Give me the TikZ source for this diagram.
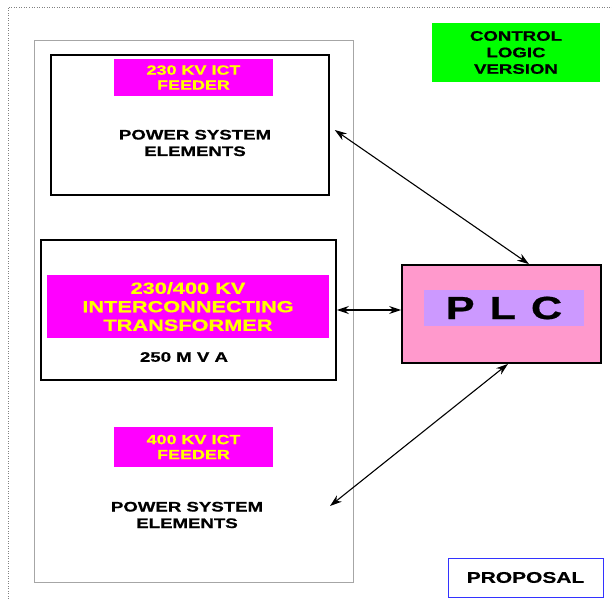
\documentclass[tikz,border=0pt]{standalone}
\usepackage{fontspec}
\setmainfont[FakeStretch=1.35,BoldFeatures={FakeBold=0.7}]{Liberation Sans}
\usetikzlibrary{positioning,arrows.meta}
\definecolor{tagmag}{HTML}{FF00FF}
\definecolor{tagyel}{HTML}{FFFF00}
\definecolor{plcpink}{HTML}{FF99CC}
\definecolor{plclav}{HTML}{CC99FF}
\definecolor{ctrlgreen}{HTML}{00FF00}
\definecolor{propblue}{HTML}{3333FF}
\tikzset{elembox/.style={draw=black,line width=1.6pt,inner sep=0pt},tag/.style={fill=tagmag,text=tagyel,inner
sep=0pt,align=center,font=\fontsize{13.3}{15}\selectfont\bfseries}}
\tikzstyle{plain}     = [inner sep=0pt, align=center, font=\fontsize{13.8}{16.5}\selectfont\bfseries]
\tikzstyle{arrow}     = [line width=1.1pt, {Stealth[length=12pt,width=8pt]}-{Stealth[length=12pt,width=8pt]}]

\begin{document}
\begin{tikzpicture}[x=1pt,y=-1pt]
		\useasboundingbox (0,0) rectangle (612,601);
		\draw[gray,dotted,line width=0.5pt] (8,601) -- (8,7) -- (612,7);
		\node[draw=gray!70,line width=0.8pt,minimum width=319pt,minimum height=542pt,inner sep=0pt] (group) at (193.5,311) {};
		\node[elembox,minimum width=278pt,minimum height=140pt] (top) at (190,125) {};
		\node[tag,minimum width=159pt,minimum height=37pt] (toptag) at (193.5,77.5) {230 KV ICT\\FEEDER};
		\node[plain] (toptext) at (195,143) {POWER SYSTEM\\ELEMENTS};
		\node[elembox,minimum width=295pt,minimum height=140pt] (mid) at (188.5,310) {};
		\node[tag,minimum width=282pt,minimum height=63pt,font=\fontsize{16.1}{18.5}\selectfont\bfseries] (midtag) at (188,306.5) {230/400 KV\\INTERCONNECTING\\TRANSFORMER};
		\node[plain] (rating) at (184,357) {250 M V A};
		\node[tag,minimum width=159pt,minimum height=40pt] (bottag) at (193.5,447) {400 KV ICT\\FEEDER};
		\node[plain] (bottext) at (187,515) {POWER SYSTEM\\ELEMENTS};
		\node[draw=black,line width=1.8pt,fill=plcpink,minimum width=199pt,minimum height=98pt,inner sep=0pt] (plc) at (501.5,314) {};
		\node[fill=plclav,minimum width=160pt,minimum height=36pt,inner sep=0pt,font=\fontsize{32}{32}\selectfont\bfseries] (plctag) at (504,308) {\spaceskip=15pt P L C};
		\node[fill=ctrlgreen,minimum width=168pt,minimum height=59pt,plain] (ctrl) at (516,52.5) {CONTROL\\LOGIC\\VERSION};
		\node[draw=propblue,line width=0.9pt,fill=white,minimum width=155pt,minimum height=39pt,plain,font=\fontsize{15.5}{16}\selectfont\bfseries] (proposal) at (525.5,577.5) {PROPOSAL};
		\coordinate (botend) at (330,506);
		\draw[arrow] ([xshift=5pt,yshift=-5pt]top.east) -- ([xshift=27.5pt]plc.north);
		\draw[arrow] (mid.east) -- (mid.east -| plc.west);
		\draw[arrow] ([xshift=6.5pt]plc.south) -- (botend);
	\end{tikzpicture}
\end{document}
